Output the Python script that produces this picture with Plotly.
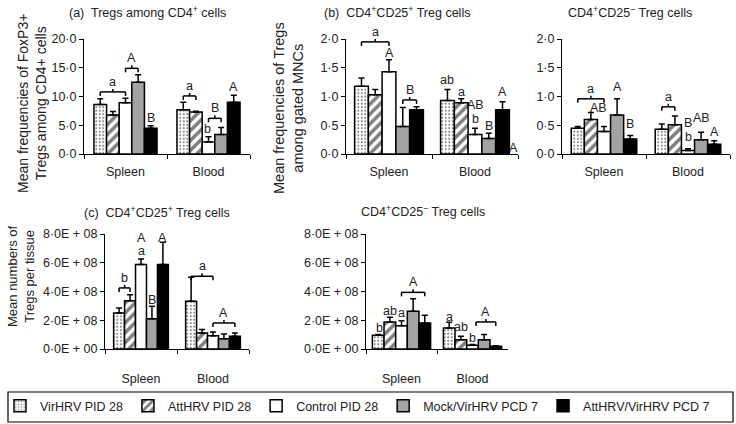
import plotly.graph_objects as go

W, H = 736, 424
FONT = "Liberation Sans, Arial, sans-serif"

groups = ["Spleen", "Blood"]
series = ["VirHRV PID 28", "AttHRV PID 28", "Control PID 28",
          "Mock/VirHRV PCD 7", "AttHRV/VirHRV PCD 7"]

# (a) FoxP3+ Tregs among CD4+ cells (%)
a_spleen = [8.6, 6.8, 8.9, 12.5, 4.5]
a_spleen_err = [1.0, 0.6, 0.8, 1.3, 0.4]
a_blood = [7.7, 7.3, 2.1, 3.4, 9.0]
a_blood_err = [1.3, 0.15, 0.9, 1.2, 1.2]

# (b) CD4+CD25+ Tregs among gated MNCs (%)
b_spleen = [1.18, 1.03, 1.43, 0.48, 0.77]
b_spleen_err = [0.14, 0.09, 0.21, 0.33, 0.05]
b_blood = [0.93, 0.89, 0.34, 0.27, 0.77]
b_blood_err = [0.19, 0.07, 0.11, 0.09, 0.14]

# (b) CD4+CD25- Tregs among gated MNCs (%)
bn_spleen = [0.45, 0.60, 0.39, 0.68, 0.26]
bn_spleen_err = [0.03, 0.12, 0.09, 0.28, 0.06]
bn_blood = [0.43, 0.51, 0.06, 0.25, 0.17]
bn_blood_err = [0.09, 0.15, 0.03, 0.13, 0.06]

# (c) CD4+CD25+ Treg numbers per tissue
c_spleen = [2.50e8, 3.36e8, 5.87e8, 2.11e8, 5.87e8]
c_spleen_err = [0.35e8, 0.42e8, 0.39e8, 0.86e8, 1.55e8]
c_blood = [3.32e8, 1.11e8, 0.93e8, 0.72e8, 0.88e8]
c_blood_err = [1.67e8, 0.24e8, 0.25e8, 0.32e8, 0.23e8]

# (c) CD4+CD25- Treg numbers per tissue
cn_spleen = [0.95e8, 1.88e8, 1.62e8, 2.62e8, 1.81e8]
cn_spleen_err = [0.05e8, 0.32e8, 0.35e8, 0.88e8, 0.53e8]
cn_blood = [1.46e8, 0.65e8, 0.26e8, 0.65e8, 0.19e8]
cn_blood_err = [0.40e8, 0.23e8, 0.06e8, 0.35e8, 0.04e8]

# significance letters: (text, group, first bar, last bar, y); bracket if first != last
a_letters = [("a", 0, 0, 2, 10.8), ("A", 0, 2, 3, 14.9), ("B", 0, 4, 4, 6.3),
             ("a", 1, 0, 1, 10.1), ("B", 1, 2, 3, 6.2), ("b", 1, 1.9, 1.9, 4.4),
             ("A", 1, 4, 4, 11.7)]
b_letters = [("a", 0, 0, 2, 1.95), ("A", 0, 2, 2, 1.76), ("B", 0, 3, 4, 0.94),
             ("ab", 1, 0, 0, 1.28), ("a", 1, 1, 1, 1.08), ("AB", 1, 2, 2, 0.85),
             ("b", 1, 2, 2, 0.61), ("B", 1, 3, 3, 0.48), ("A", 1, 4, 4, 1.08),
             ("A", 1, 4.8, 4.8, 0.10)]
bn_letters = [("a", 0, 0, 2, 0.96), ("AB", 0, 1.6, 1.6, 0.80), ("A", 0, 3, 3, 1.17),
              ("B", 0, 4, 4, 0.52), ("a", 1, 0, 1, 0.82), ("B", 1, 2, 2, 0.54),
              ("b", 1, 2, 2, 0.30), ("AB", 1, 3, 3, 0.63), ("A", 1, 4, 4, 0.39)]
c_letters = [("b", 0, 0, 1, 4.25e8), ("a", 0, 2, 2, 6.85e8), ("A", 0, 2, 2, 7.72e8),
             ("A", 0, 4, 4, 7.75e8), ("B", 0, 3, 3, 3.43e8), ("a", 1, 0, 2, 5.06e8),
             ("A", 1, 2, 4, 1.81e8)]
cn_letters = [("b", 0, 0.1, 0.1, 1.46e8), ("ab", 0, 1, 1, 2.62e8), ("a", 0, 2, 2, 2.5e8),
              ("A", 0, 2, 4, 3.94e8), ("a", 1, 0, 0, 2.2e8), ("ab", 1, 1, 1, 1.5e8),
              ("b", 1, 2, 2, 0.77e8), ("A", 1, 2.3, 4, 1.88e8)]

pct20_ticks = [0, 5, 10, 15, 20]
pct20_text = ["0·0", "5·0", "10·0", "15·0", "20·0"]
pct2_ticks = [0, 0.5, 1.0, 1.5, 2.0]
pct2_text = ["0·0", "0·5", "1·0", "1·5", "2·0"]
num_ticks = [0, 2e8, 4e8, 6e8, 8e8]
num_text = ["0·0E + 00", "2·0E + 08", "4·0E + 08", "6·0E + 08", "8·0E + 08"]

styles = [
    dict(color="white", pattern=dict(shape=".", fgcolor="black", bgcolor="white", size=3.5, solidity=0.25)),
    dict(color="white", pattern=dict(shape="/", fgcolor="black", bgcolor="white", size=7, solidity=0.5)),
    dict(color="white"),
    dict(color="#a3a3a3"),
    dict(color="black"),
]

fig = go.Figure()

def px_x(p):
    return p / W

def px_y(p):
    return 1 - p / H

panels = [
    # key, x px span, y px span (bottom, top), y max, ticks, group width, data, letters, label standoff
    ("", (84, 250), (154, 39), 20, pct20_ticks, pct20_text, 0.76,
     (a_spleen, a_spleen_err, a_blood, a_blood_err), a_letters, 6),
    ("2", (346, 518), (154, 39), 2, pct2_ticks, pct2_text, 0.80,
     (b_spleen, b_spleen_err, b_blood, b_blood_err), b_letters, 6),
    ("3", (562, 730), (154, 39), 2, pct2_ticks, pct2_text, 0.78,
     (bn_spleen, bn_spleen_err, bn_blood, bn_blood_err), bn_letters, 6),
    ("4", (105, 249), (349, 234), 8e8, num_ticks, num_text, 0.76,
     (c_spleen, c_spleen_err, c_blood, c_blood_err), c_letters, 18),
    ("5", (366, 508), (349, 234), 8e8, num_ticks, num_text, 0.82,
     (cn_spleen, cn_spleen_err, cn_blood, cn_blood_err), cn_letters, 18),
]

shapes = []
annotations = []
LET_FONT = dict(family=FONT, size=12.5, color="#222")

for pi, (key, xs, ys, ymax, tv, tt, G, data, letters, stand) in enumerate(panels):
    xa, ya = "x" + key, "y" + key
    sp, sp_e, bl, bl_e = data
    bw = G / 5
    for i, name in enumerate(series):
        fig.add_trace(go.Bar(
            x=groups, y=[sp[i], bl[i]],
            error_y=dict(type="data", array=[sp_e[i], bl_e[i]], arrayminus=[0, 0],
                         symmetric=False, color="black", thickness=1.5, width=3),
            width=bw, offset=-G / 2 + i * bw,
            marker=dict(line=dict(color="black", width=1.5), **styles[i]),
            name=name, legendgroup=name, showlegend=(pi == 0),
            xaxis=xa, yaxis=ya,
        ))
    axis_x = dict(domain=[px_x(xs[0]), px_x(xs[1])], anchor=ya, type="category",
                  categoryorder="array", categoryarray=groups, range=[-0.5, 1.5],
                  showline=True, linecolor="black", linewidth=1, ticks="outside",
                  tickson="boundaries", ticklen=4, tickcolor="black", showgrid=False,
                  ticklabelstandoff=stand, automargin=False,
                  tickfont=dict(family=FONT, size=12.5, color="#222"), fixedrange=True)
    axis_y = dict(domain=[px_y(ys[0]), px_y(ys[1])], anchor=xa, range=[0, ymax],
                  showline=True, linecolor="black", linewidth=1, ticks="outside",
                  ticklen=4, tickcolor="black", showgrid=False, zeroline=False,
                  tickvals=tv, ticktext=tt, automargin=False,
                  tickfont=dict(family=FONT, size=12.5, color="#222"), fixedrange=True)
    fig.layout["xaxis" + key] = axis_x
    fig.layout["yaxis" + key] = axis_y

    unit = ymax / (ys[0] - ys[1])  # data units per pixel

    def xpos(g, i):
        return g - G / 2 + (i + 0.5) * bw

    for text, g, i0, i1, y in letters:
        x0, x1 = xpos(g, i0), xpos(g, i1)
        if i0 != i1:
            xm = (x0 + x1) / 2
            segs = [(x0, y - 4 * unit, x0, y), (x0, y, x1, y), (x1, y, x1, y - 4 * unit),
                    (xm, y, xm, y + 3 * unit)]
            for (sx0, sy0, sx1, sy1) in segs:
                shapes.append(dict(type="line", xref=xa, yref=ya, x0=sx0, y0=sy0,
                                   x1=sx1, y1=sy1, line=dict(color="black", width=1.5)))
            annotations.append(dict(text=text, x=xm, y=y, xref=xa, yref=ya,
                                    yanchor="middle", yshift=10, showarrow=False,
                                    font=LET_FONT))
        else:
            annotations.append(dict(text=text, x=x0, y=y, xref=xa, yref=ya,
                                    yanchor="middle", showarrow=False, font=LET_FONT))

titles = [
    ("(a)  Tregs among CD4<sup>+</sup> cells", 147, 12),
    ("(b)  CD4<sup>+</sup>CD25<sup>+</sup> Treg cells", 397, 12),
    ("CD4<sup>+</sup>CD25<sup>−</sup> Treg cells", 630, 12),
    ("(c)  CD4<sup>+</sup>CD25<sup>+</sup> Treg cells", 157, 212),
    ("CD4<sup>+</sup>CD25<sup>−</sup> Treg cells", 423, 211),
]
for t, x, y in titles:
    annotations.append(dict(text=t, x=px_x(x), y=px_y(y), xref="paper", yref="paper",
                            showarrow=False, xanchor="center", yanchor="middle",
                            font=dict(family=FONT, size=12.5, color="#222")))

ytitles = [
    ("Mean frequencies of FoxP3+<br>Tregs among CD4+ cells", 32, 104, 14),
    ("Mean frequencies of Tregs<br>among gated MNCs", 288, 108, 14.5),
    ("Mean numbers of<br>Tregs per tissue", 21, 276, 13),
]
for t, x, y, fs in ytitles:
    annotations.append(dict(text=t, x=px_x(x), y=px_y(y), xref="paper", yref="paper",
                            showarrow=False, textangle=-90, xanchor="center",
                            yanchor="middle",
                            font=dict(family=FONT, size=fs, color="#222")))

# legend frame
shapes.append(dict(type="rect", xref="paper", yref="paper", x0=px_x(8), x1=px_x(733),
                   y0=px_y(422), y1=px_y(392), line=dict(color="black", width=1.2)))

fig.update_layout(
    width=W, height=H, margin=dict(l=0, r=0, t=0, b=0, pad=0, autoexpand=False),
    paper_bgcolor="white", plot_bgcolor="white",
    barmode="overlay",
    shapes=shapes, annotations=annotations,
    showlegend=True,
    legend=dict(orientation="h", x=0.0, y=px_y(406), xanchor="left", yanchor="middle",
                font=dict(family=FONT, size=12.5, color="#222"),
                bgcolor="rgba(0,0,0,0)", borderwidth=0, itemwidth=30,
                tracegroupgap=0),
    font=dict(family=FONT, color="#222"),
)

fig.write_html("out.html", config={"displayModeBar": False, "staticPlot": True},
               post_script="document.body.style.margin='0px';document.body.style.padding='0px';")
